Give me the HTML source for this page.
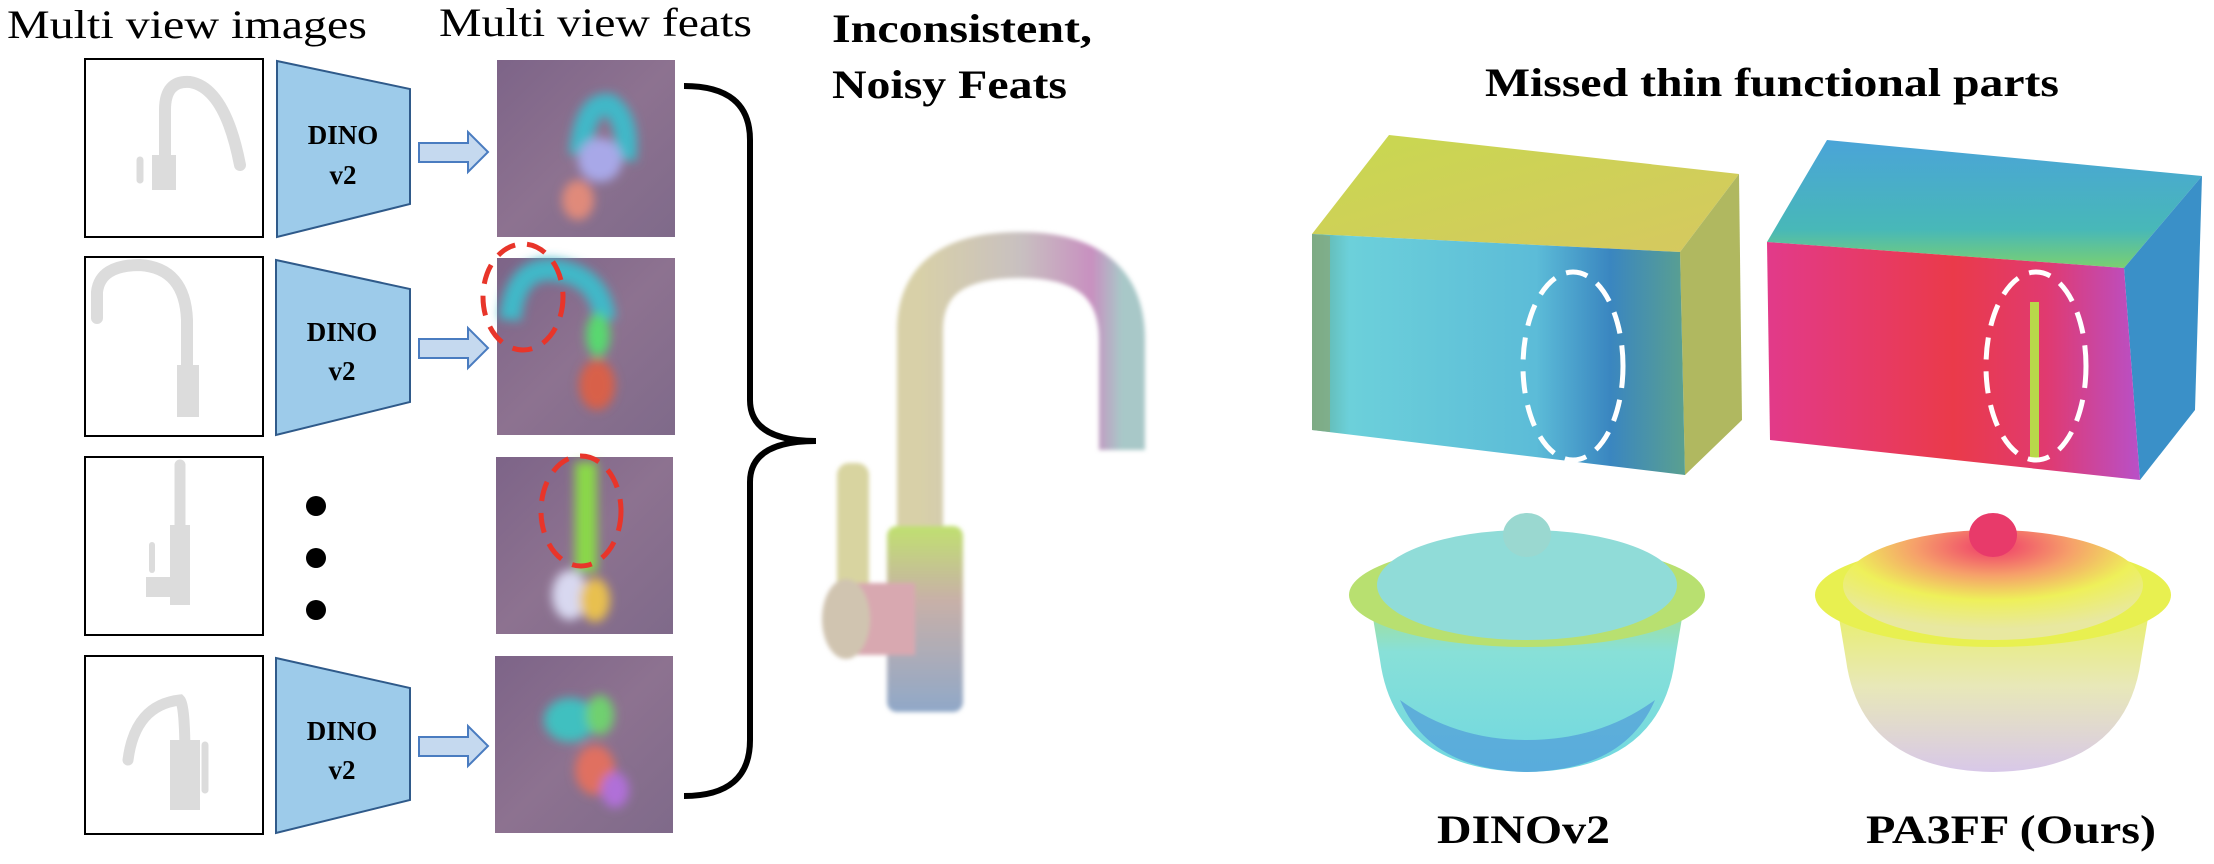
<!DOCTYPE html>
<html><head><meta charset="utf-8"><style>
html,body{margin:0;padding:0;background:#fff;}
svg{display:block;}
text{font-family:"Liberation Serif",serif;}
</style></head><body>
<svg width="2214" height="864" viewBox="0 0 2214 864" xmlns="http://www.w3.org/2000/svg">
<defs>
<filter id="blur" x="-30%" y="-30%" width="160%" height="160%"><feGaussianBlur stdDeviation="5"/></filter>
<filter id="blur2" x="-30%" y="-30%" width="160%" height="160%"><feGaussianBlur stdDeviation="2"/></filter>
<linearGradient id="feat" x1="0" y1="0" x2="1" y2="1">
<stop offset="0" stop-color="#7d6488"/><stop offset="0.5" stop-color="#8d7290"/><stop offset="1" stop-color="#7f6a8a"/>
</linearGradient>
<radialGradient id="pot2" cx="0.5" cy="0.15" r="0.75">
<stop offset="0" stop-color="#ef3a6a"/><stop offset="0.35" stop-color="#f6a06a"/><stop offset="0.65" stop-color="#eef05a"/><stop offset="1" stop-color="#e8e8a0"/>
</radialGradient>
<linearGradient id="pot2body" x1="0" y1="0" x2="0" y2="1">
<stop offset="0" stop-color="#e8f060"/><stop offset="0.5" stop-color="#e8e8b8"/><stop offset="1" stop-color="#d8c8e8"/>
</linearGradient>
<linearGradient id="pot1body" x1="0" y1="0" x2="0" y2="1">
<stop offset="0" stop-color="#a8e088"/><stop offset="0.3" stop-color="#88e0d8"/><stop offset="1" stop-color="#70d8e0"/>
</linearGradient>
<linearGradient id="mw1front" x1="0" y1="0" x2="1" y2="0">
<stop offset="0" stop-color="#5fb0a0"/><stop offset="0.1" stop-color="#6cd0da"/><stop offset="0.6" stop-color="#5cbcd8"/><stop offset="0.8" stop-color="#3a86c0"/><stop offset="1" stop-color="#5aa090"/>
</linearGradient>
<linearGradient id="mw1top" x1="0" y1="0" x2="1" y2="1">
<stop offset="0" stop-color="#c8d850"/><stop offset="1" stop-color="#d6c860"/>
</linearGradient>
<linearGradient id="mw2front" x1="0" y1="0" x2="1" y2="0">
<stop offset="0" stop-color="#e23a8a"/><stop offset="0.5" stop-color="#ea3a4a"/><stop offset="0.75" stop-color="#e03a70"/><stop offset="1" stop-color="#b850c8"/>
</linearGradient>
<linearGradient id="mw2top" x1="0" y1="1" x2="0" y2="0">
<stop offset="0" stop-color="#7ad070"/><stop offset="0.3" stop-color="#48b8b8"/><stop offset="1" stop-color="#4aa4d8"/>
</linearGradient>
<linearGradient id="faucet" x1="0" y1="0" x2="1" y2="0">
<stop offset="0" stop-color="#d8d0a8"/><stop offset="0.5" stop-color="#c8c0c0"/><stop offset="0.85" stop-color="#c890c0"/><stop offset="1" stop-color="#a8c8c8"/>
</linearGradient>
<linearGradient id="fbase" x1="0" y1="0" x2="0" y2="1">
<stop offset="0" stop-color="#c0e070"/><stop offset="0.4" stop-color="#c8b0a8"/><stop offset="1" stop-color="#90a8c8"/>
</linearGradient>
</defs>

<!-- Titles -->
<text x="7" y="38" font-size="40" textLength="360" lengthAdjust="spacingAndGlyphs">Multi view images</text>
<text x="439" y="36" font-size="40" textLength="313" lengthAdjust="spacingAndGlyphs">Multi view feats</text>
<text x="832" y="42" font-size="40" font-weight="bold" textLength="260" lengthAdjust="spacingAndGlyphs">Inconsistent,</text>
<text x="832" y="98" font-size="40" font-weight="bold" textLength="235" lengthAdjust="spacingAndGlyphs">Noisy Feats</text>
<text x="1485" y="96" font-size="40" font-weight="bold" textLength="574" lengthAdjust="spacingAndGlyphs">Missed thin functional parts</text>
<text x="1437" y="843" font-size="40" font-weight="bold" textLength="173" lengthAdjust="spacingAndGlyphs">DINOv2</text>
<text x="1866" y="843" font-size="40" font-weight="bold" textLength="290" lengthAdjust="spacingAndGlyphs">PA3FF (Ours)</text>

<!-- Image boxes -->
<g fill="#fff" stroke="#000" stroke-width="2">
<rect x="85" y="59" width="178" height="178"/>
<rect x="85" y="257" width="178" height="179"/>
<rect x="85" y="457" width="178" height="178"/>
<rect x="85" y="656" width="178" height="178"/>
</g>
<g fill="none" stroke="#dcdcdc" stroke-linecap="round">
<path d="M165 175 V110 Q165 80 190 82 Q225 88 240 165" stroke-width="12"/>
<rect x="152" y="155" width="24" height="35" fill="#dcdcdc" stroke="none"/>
<path d="M140 160 V180" stroke-width="7"/>
<path d="M97 318 V292 Q100 265 140 265 Q185 268 187 320 V400" stroke-width="12"/>
<rect x="177" y="365" width="22" height="52" fill="#dcdcdc" stroke="none"/>
<path d="M180 465 V540" stroke-width="11"/>
<rect x="170" y="525" width="20" height="80" fill="#dcdcdc" stroke="none"/>
<rect x="146" y="577" width="28" height="20" fill="#dcdcdc" stroke="none"/>
<path d="M152 545 V570" stroke-width="6"/>
<path d="M128 760 Q135 705 180 700 Q185 705 185 760" stroke-width="11"/>
<rect x="170" y="740" width="30" height="70" fill="#dcdcdc" stroke="none"/>
<path d="M205 745 V790" stroke-width="7"/>
</g>

<!-- DINO trapezoids -->
<g fill="#9dcbea" stroke="#2f5a8a" stroke-width="2">
<polygon points="277,61 410,89 410,204 277,237"/>
<polygon points="276,260 410,289 410,402 276,435"/>
<polygon points="276,658 410,688 410,800 276,833"/>
</g>
<g font-weight="bold" font-size="27" text-anchor="middle">
<text x="343" y="144">DINO</text><text x="343" y="184">v2</text>
<text x="342" y="341">DINO</text><text x="342" y="380">v2</text>
<text x="342" y="740">DINO</text><text x="342" y="779">v2</text>
</g>
<g fill="#c5d9ef" stroke="#4a7cc0" stroke-width="2">
<polygon points="419,143 468,143 468,132 488,152 468,172 468,162 419,162"/>
<polygon points="419,339 468,339 468,328 488,348 468,368 468,358 419,358"/>
<polygon points="419,737 468,737 468,726 488,746 468,766 468,756 419,756"/>
</g>
<g fill="#000"><circle cx="316" cy="506" r="10"/><circle cx="316" cy="558" r="10"/><circle cx="316" cy="610" r="10"/></g>

<!-- feature images -->
<rect x="497" y="60" width="178" height="177" fill="url(#feat)"/>
<rect x="497" y="258" width="178" height="177" fill="url(#feat)"/>
<rect x="496" y="457" width="177" height="177" fill="url(#feat)"/>
<rect x="495" y="656" width="178" height="177" fill="url(#feat)"/>
<g filter="url(#blur)">
<path d="M580 155 Q585 100 610 105 Q630 120 625 160" stroke="#40b8c8" stroke-width="22" fill="none"/>
<ellipse cx="600" cy="160" rx="22" ry="22" fill="#a8a8e8"/>
<ellipse cx="578" cy="200" rx="16" ry="20" fill="#e08a7a"/>
<path d="M510 320 Q515 265 555 270 Q600 275 605 320" stroke="#40b8c8" stroke-width="22" fill="none"/>
<ellipse cx="598" cy="335" rx="12" ry="22" fill="#58d870"/>
<ellipse cx="597" cy="385" rx="18" ry="25" fill="#d8604a"/>
<rect x="575" y="462" width="22" height="110" fill="#8ad84a"/>
<ellipse cx="570" cy="595" rx="18" ry="25" fill="#d8d8f0"/>
<ellipse cx="595" cy="600" rx="15" ry="22" fill="#e8c050"/>
<ellipse cx="570" cy="720" rx="26" ry="22" fill="#40c0c0"/>
<ellipse cx="600" cy="715" rx="14" ry="20" fill="#70d070"/>
<ellipse cx="595" cy="770" rx="20" ry="25" fill="#e07060"/>
<ellipse cx="615" cy="790" rx="14" ry="18" fill="#b070d8"/>
</g>
<g fill="none" stroke="#e8352a" stroke-width="5" stroke-dasharray="20,12">
<ellipse cx="523" cy="297" rx="40" ry="53"/>
<ellipse cx="581" cy="511" rx="40" ry="55"/>
</g>

<!-- brace -->
<path d="M684 86 Q750 86 750 140 V400 Q750 441 816 441 Q750 441 750 482 V740 Q750 796 684 796" fill="none" stroke="#000" stroke-width="6"/>

<!-- faucet 3D -->
<g filter="url(#blur2)">
<path d="M920 540 V330 Q920 255 1020 255 Q1122 255 1122 340 V450" fill="none" stroke="url(#faucet)" stroke-width="46"/>
<rect x="887" y="526" width="76" height="186" rx="10" fill="url(#fbase)"/>
<rect x="837" y="463" width="32" height="150" rx="12" fill="#d8d4a0"/>
<rect x="845" y="583" width="70" height="72" fill="#d8a8b0"/>
<ellipse cx="846" cy="619" rx="24" ry="40" fill="#d0c4b0"/>
</g>

<!-- microwave 1 -->
<g>
<polygon points="1312,234 1389,135 1739,174 1680,252" fill="url(#mw1top)"/>
<polygon points="1680,252 1739,174 1742,420 1685,475" fill="#b0b860"/>
<polygon points="1312,234 1680,252 1685,475 1312,430" fill="url(#mw1front)"/>
<polygon points="1312,234 1330,236 1330,432 1312,430" fill="#8aa878" opacity="0.7"/>
</g>
<!-- microwave 2 -->
<g>
<polygon points="1767,242 1827,140 2202,176 2124,268" fill="url(#mw2top)"/>
<polygon points="2124,268 2202,176 2195,410 2140,480" fill="#3a90c8"/>
<polygon points="1767,242 2124,268 2140,480 1770,440" fill="url(#mw2front)"/>
<rect x="2030" y="302" width="9" height="160" fill="#b8d84a"/>
</g>
<g fill="none" stroke="#fff" stroke-width="5" stroke-dasharray="22,12">
<ellipse cx="1573" cy="366" rx="50" ry="94"/>
<ellipse cx="2036" cy="366" rx="50" ry="94"/>
</g>

<!-- pots -->
<g>
<path d="M1370 600 L1380 660 Q1395 770 1527 772 Q1660 770 1675 660 L1685 600 Z" fill="url(#pot1body)"/>
<path d="M1400 700 Q1430 770 1527 772 Q1625 770 1655 700 Q1600 740 1527 740 Q1455 740 1400 700Z" fill="#4a90d8" opacity="0.6"/>
<ellipse cx="1527" cy="595" rx="178" ry="52" fill="#b8e070"/>
<ellipse cx="1527" cy="585" rx="150" ry="55" fill="#90dcd8"/>
<ellipse cx="1527" cy="535" rx="24" ry="22" fill="#9ad8d0"/>
<path d="M1836 600 L1846 660 Q1861 770 1993 772 Q2126 770 2141 660 L2151 600 Z" fill="url(#pot2body)"/>
<ellipse cx="1993" cy="595" rx="178" ry="52" fill="#e8f050"/>
<ellipse cx="1993" cy="585" rx="150" ry="55" fill="url(#pot2)"/>
<ellipse cx="1993" cy="535" rx="24" ry="22" fill="#e83a6a"/>
</g>
</svg>
</body></html>
